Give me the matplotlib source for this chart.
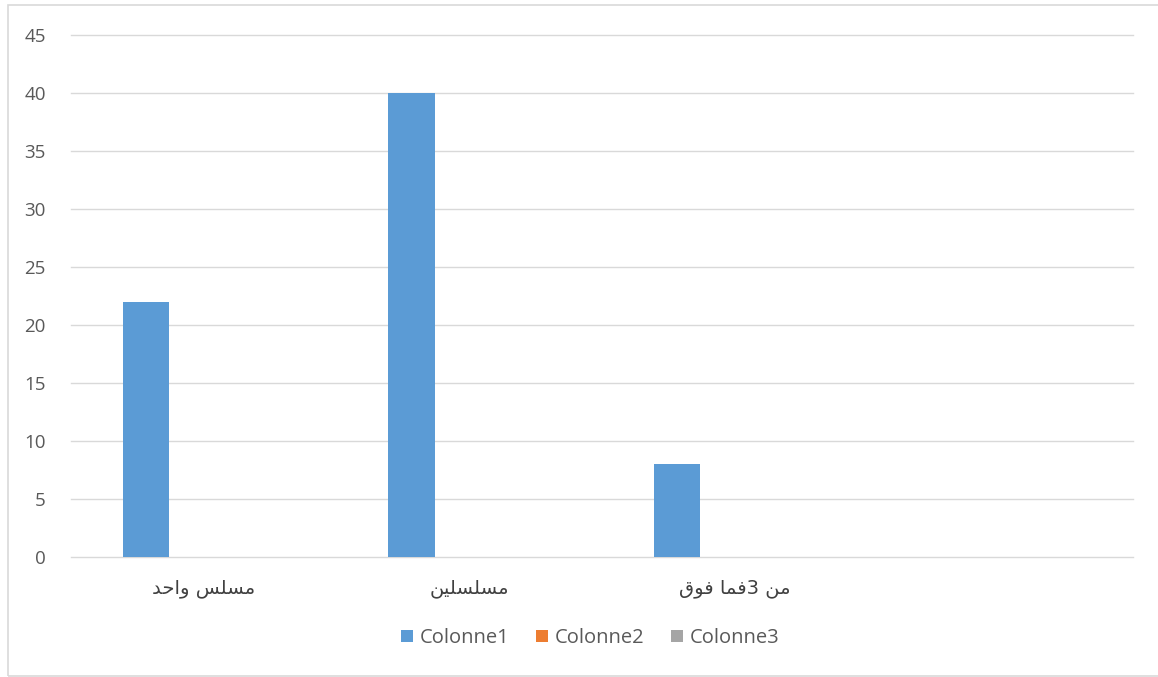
import matplotlib
matplotlib.use("Agg")
import matplotlib.pyplot as plt
from matplotlib.patches import Patch, Rectangle
import numpy as np

# ---- data ----
categories = ["مسلس واحد", "مسلسلين", "من 3فما فوق", ""]
colonne1 = [22, 40, 8, 0]
colonne2 = [0, 0, 0, 0]
colonne3 = [0, 0, 0, 0]
series_names = ["Colonne1", "Colonne2", "Colonne3"]
series_colors = ["#5B9BD5", "#ED7D31", "#A5A5A5"]
yticks = [0, 5, 10, 15, 20, 25, 30, 35, 40, 45]

# ---- simple Arabic shaping (presentation forms) + visual reversal ----
AR_FORMS = {
    'ا': ('\uFE8D', '\uFE8E', None, None),
    'و': ('\uFEED', '\uFEEE', None, None),
    'د': ('\uFEA9', '\uFEAA', None, None),
    'م': ('\uFEE1', '\uFEE2', '\uFEE3', '\uFEE4'),
    'س': ('\uFEB1', '\uFEB2', '\uFEB3', '\uFEB4'),
    'ل': ('\uFEDD', '\uFEDE', '\uFEDF', '\uFEE0'),
    'ح': ('\uFEA1', '\uFEA2', '\uFEA3', '\uFEA4'),
    'ي': ('\uFEF1', '\uFEF2', '\uFEF3', '\uFEF4'),
    'ن': ('\uFEE5', '\uFEE6', '\uFEE7', '\uFEE8'),
    'ف': ('\uFED1', '\uFED2', '\uFED3', '\uFED4'),
    'ق': ('\uFED5', '\uFED6', '\uFED7', '\uFED8'),
}


def shape(s):
    out = []
    for i, c in enumerate(s):
        f = AR_FORMS.get(c)
        if not f:
            out.append(c)
            continue
        prev = s[i - 1] if i > 0 else None
        nxt = s[i + 1] if i + 1 < len(s) else None
        jp = prev in AR_FORMS and AR_FORMS[prev][2] is not None
        jn = f[2] is not None and nxt in AR_FORMS
        if jp and jn:
            g = f[3]
        elif jp:
            g = f[1]
        elif jn:
            g = f[2]
        else:
            g = f[0]
        out.append(g)
    return ''.join(reversed(out))


plt.rcParams['font.family'] = ['Open Sans', 'DejaVu Sans']

fig = plt.figure(figsize=(11.58, 6.77), dpi=100)
ax = fig.add_axes([0.0611, 0.1773, 0.9173, 0.7710])

x = np.arange(len(categories))
width = 0.175
offsets = [-0.217, -0.217 + width, -0.217 + 2 * width]
for vals, name, col, off in zip([colonne1, colonne2, colonne3], series_names, series_colors, offsets):
    ax.bar(x + off, vals, width=width, color=col, linewidth=0, label=name, zorder=3)

ax.set_xlim(-0.5, 3.5)
ax.set_ylim(0, 45)
ax.set_yticks(yticks)
ax.set_yticklabels([str(v) for v in yticks], color="#595959", fontsize=13.5)
ax.tick_params(axis='y', length=0, pad=18)
ax.set_xticks(x)
ax.set_xticklabels([shape(c) for c in categories], family='DejaVu Sans',
                   fontsize=14, color="#404040")
ax.tick_params(axis='x', length=0, pad=16)
ax.grid(axis='y', color="#D9D9D9", linewidth=1, zorder=0)
for gl in ax.get_ygridlines():
    gl.set_clip_on(False)
for sp in ax.spines.values():
    sp.set_visible(False)

handles = [Patch(facecolor=c, edgecolor='none', label=n) for n, c in zip(series_names, series_colors)]
leg = fig.legend(handles=handles, loc='center', bbox_to_anchor=(590 / 1158, 39 / 677),
                 ncol=3, frameon=False, fontsize=14.5, handlelength=0.6, handleheight=0.6,
                 handletextpad=0.35, columnspacing=1.3)
for t in leg.get_texts():
    t.set_color("#595959")

fig.patches.append(Rectangle((8 / 1158, 1.5 / 677), 1.2, 670.5 / 677, transform=fig.transFigure,
                             fill=False, edgecolor="#D9D9D9", linewidth=1.2, clip_on=False))

fig.savefig("out.png", dpi=100)
